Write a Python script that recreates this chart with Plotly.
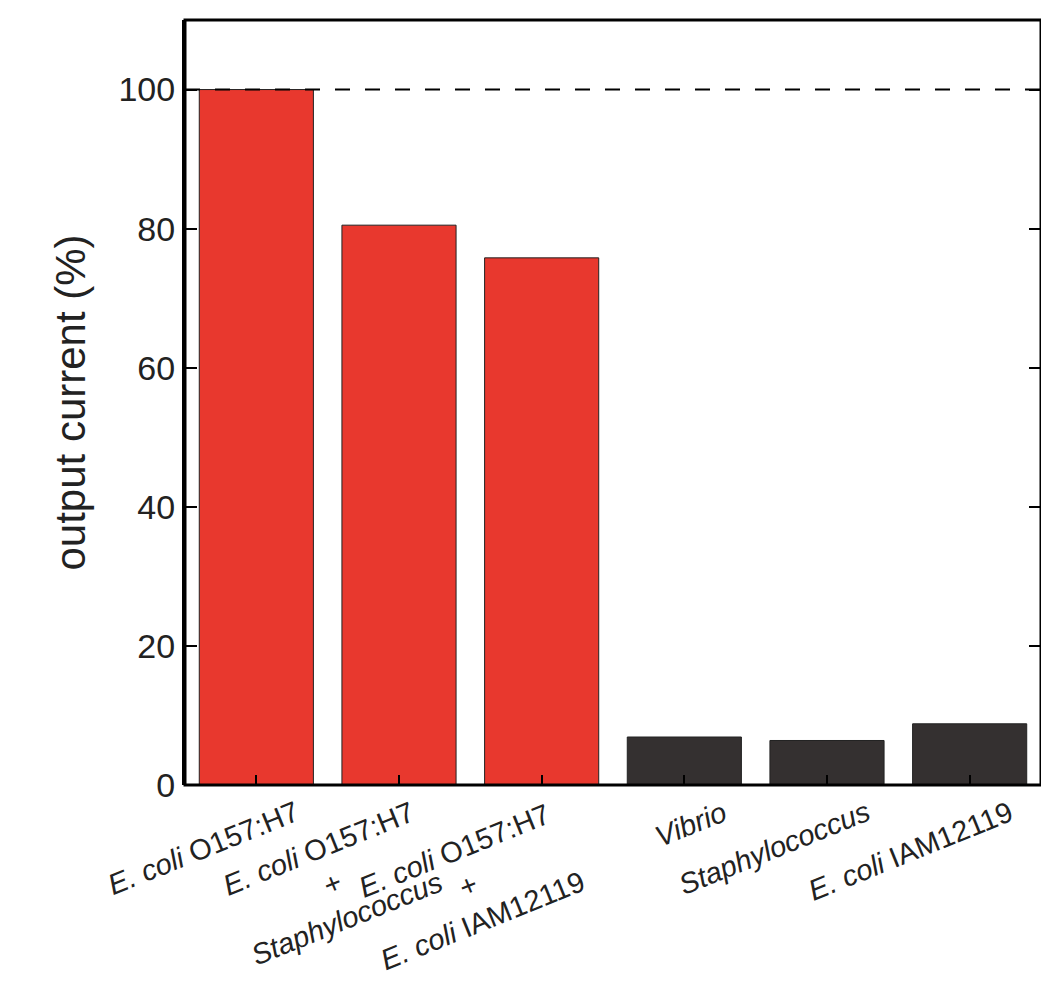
import plotly.graph_objects as go

categories = ["<i>E. coli</i> O157:H7",
              "<i>E. coli</i> O157:H7<br>+<br><i>Staphylococcus</i>",
              "<i>E. coli</i> O157:H7<br>+<br><i>E. coli</i> IAM12119",
              "<i>Vibrio</i>",
              "<i>Staphylococcus</i>",
              "<i>E. coli</i> IAM12119"]
values = [100, 80.5, 75.8, 6.9, 6.4, 8.8]
colors = ["#e8382e"] * 3 + ["#343030"] * 3
ref_level = 100

x = list(range(len(values)))
fig = go.Figure(go.Bar(x=x, y=values, marker=dict(color=colors, line=dict(color="#222", width=1)), width=0.8))
fig.add_shape(type="line", xref="paper", x0=0, x1=1, y0=ref_level, y1=ref_level,
              line=dict(color="black", width=2, dash="longdash"))
fig.add_shape(type="rect", xref="paper", yref="paper", x0=0, x1=1, y0=0, y1=1,
              line=dict(color="black", width=3))
for i, lab in enumerate(categories):
    fig.add_annotation(x=i + 0.35, y=0, yref="paper", text=lab, showarrow=False,
                       textangle=-22, xanchor="right", yanchor="top", yshift=-8,
                       font=dict(size=29, color="#222"), align="center")
fig.update_layout(
    width=1049, height=1000, plot_bgcolor="white", paper_bgcolor="white",
    margin=dict(l=177, r=16, t=12, b=223, autoexpand=False), showlegend=False,
    font=dict(family="Liberation Sans, Arial", color="#222"),
)
fig.update_xaxes(tickvals=x, showticklabels=False, range=[-0.5, 5.5], automargin=False,
                 showline=False, ticks="inside", ticklen=10, tickwidth=1.5, tickcolor="black")
fig.update_yaxes(range=[0, 110], tickvals=[0, 20, 40, 60, 80, 100], showgrid=False, zeroline=False,
                 showline=True, linecolor="black", linewidth=3, mirror="ticks", automargin=False,
                 ticks="inside", ticklen=12, tickwidth=1.5, tickcolor="black", tickfont=dict(size=34),
                 title=dict(text="output current (%)", font=dict(size=42), standoff=20))
fig.write_html("out.html")
